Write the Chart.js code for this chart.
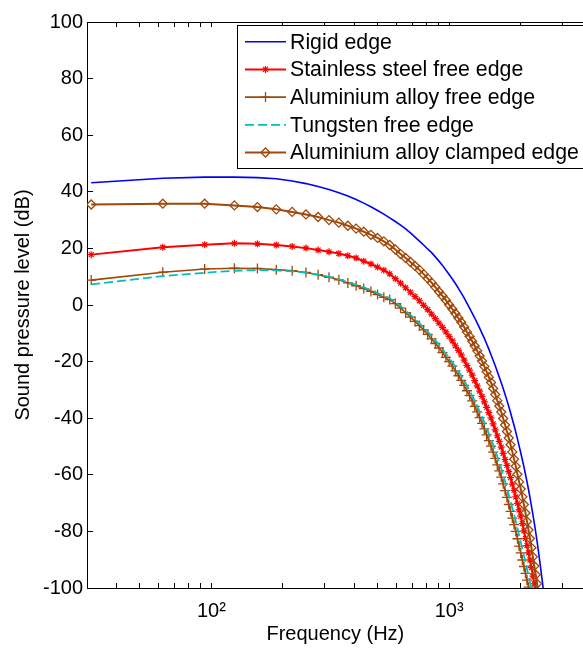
<!DOCTYPE html>
<html>
<head>
<meta charset="utf-8">
<script src="https://cdn.jsdelivr.net/npm/chart.js"></script>
<style>
  html, body { margin: 0; padding: 0; background: #fff; }
  #wrap { width: 583px; height: 650px; overflow: hidden; }
</style>
</head>
<body>
<div id="wrap"><canvas id="splChart" width="590" height="650"></canvas></div>
<script>
// frequency points (Hz), 31.25 Hz spacing
const freqs = [31.25, 62.5, 93.75, 125, 156.25, 187.5, 218.75, 250, 281.25, 312.5,
  343.75, 375, 406.25, 437.5, 468.75, 500, 531.25, 562.5, 593.75, 625,
  656.25, 687.5, 718.75, 750, 781.25, 812.5, 843.75, 875, 906.25, 937.5,
  968.75, 1000, 1031.25, 1062.5, 1093.75, 1125, 1156.25, 1187.5, 1218.75, 1250,
  1281.25, 1312.5, 1343.75, 1375, 1406.25, 1437.5, 1468.75, 1500, 1531.25, 1562.5,
  1593.75, 1625, 1656.25, 1687.5, 1718.75, 1750, 1781.25, 1812.5, 1843.75, 1875,
  1906.25, 1937.5, 1968.75, 2000, 2031.25, 2062.5, 2093.75, 2125, 2156.25, 2187.5,
  2218.75, 2250, 2281.25, 2312.5, 2343.75, 2375, 2406.25, 2437.5, 2468.75, 2500, 2531.25];

// sound pressure level (dB) per case
const rigidEdge = [43.2, 44.8, 45.2, 45.2, 45.0, 44.6, 43.8, 42.9, 41.9, 40.8,
  39.7, 38.5, 37.3, 36.0, 34.7, 33.4, 32.1, 30.8, 29.5, 28.2,
  26.9, 25.5, 24.0, 22.6, 21.2, 19.8, 18.5, 17.0, 15.5, 14.0,
  12.4, 10.8, 9.2, 7.6, 5.9, 4.2, 2.5, 0.7, -1.1, -2.9,
  -4.6, -6.4, -8.2, -10.0, -11.8, -13.7, -15.6, -17.6, -19.5, -21.5,
  -23.5, -25.5, -27.5, -29.5, -31.6, -33.7, -35.9, -38.1, -40.4, -42.6,
  -44.9, -47.3, -49.8, -52.2, -54.7, -57.1, -59.8, -62.4, -65.2, -68.1,
  -71.1, -74.0, -77.1, -80.3, -83.6, -87.1, -90.8, -94.4, -98.1, -101.9, -106.0];

const steelFree = [17.8, 20.4, 21.3, 21.8, 21.6, 21.2, 20.7, 20.1, 19.4, 18.8,
  18.2, 17.4, 16.6, 15.5, 14.5, 13.4, 12.3, 11.0, 9.3, 7.7,
  6.1, 4.5, 3.0, 1.5, -0.1, -1.6, -3.2, -4.8, -6.4, -7.9,
  -9.5, -11.1, -12.7, -14.4, -16.0, -17.6, -19.5, -21.3, -23.0, -24.8,
  -26.7, -28.6, -30.4, -32.3, -34.2, -36.2, -38.0, -39.9, -42.0, -44.1,
  -46.2, -48.2, -50.2, -52.4, -54.6, -56.7, -58.9, -61.0, -63.3, -65.5,
  -67.8, -70.1, -72.4, -74.6, -77.2, -79.8, -82.5, -85.0, -87.6, -90.1,
  -92.8, -95.8, -98.5, -101.5];

const aluFree = [8.8, 11.6, 12.7, 13.0, 12.9, 12.5, 12.1, 11.5, 10.7, 9.8,
  8.9, 7.8, 6.8, 5.8, 4.8, 3.7, 2.7, 1.9, 0.5, -1.1,
  -2.7, -4.3, -5.8, -7.3, -8.8, -10.4, -12.0, -13.6, -15.2, -16.8,
  -18.5, -20.0, -21.6, -23.3, -25.0, -26.6, -28.4, -30.3, -32.0, -33.9,
  -35.8, -37.8, -39.8, -41.8, -43.8, -45.9, -47.9, -49.9, -52.0, -54.2,
  -56.5, -58.6, -60.8, -63.2, -65.6, -68.0, -70.5, -72.9, -75.3, -77.6,
  -80.0, -82.6, -85.2, -87.6, -90.1, -92.4, -94.8, -97.2, -99.7, -102.5];

const tungstenFree = [7.3, 10.2, 11.4, 12.1, 12.3, 12.2, 11.9, 11.4, 10.7, 9.9,
  9.1, 8.1, 7.1, 6.2, 5.2, 4.2, 3.2, 2.4, 1.1, -0.4,
  -2.0, -3.5, -5.0, -6.5, -7.9, -9.4, -11.0, -12.5, -14.0, -15.6,
  -17.2, -18.7, -20.2, -21.8, -23.4, -25.0, -26.7, -28.5, -30.2, -32.0,
  -33.8, -35.7, -37.6, -39.5, -41.4, -43.4, -45.4, -47.3, -49.3, -51.4,
  -53.6, -55.7, -57.8, -60.1, -62.4, -64.7, -67.1, -69.4, -71.8, -74.0,
  -76.4, -78.9, -81.4, -83.7, -86.2, -88.5, -90.9, -93.3, -95.7, -98.2, -100.8];

const aluClamped = [35.5, 35.8, 35.8, 35.2, 34.6, 33.8, 32.9, 32.0, 31.1, 30.0,
  29.1, 28.0, 27.0, 25.9, 24.8, 23.7, 22.5, 21.2, 19.6, 18.0,
  16.6, 15.2, 13.8, 12.4, 10.9, 9.4, 7.9, 6.3, 4.7, 3.2,
  1.7, 0.1, -1.4, -3.0, -4.6, -6.1, -7.8, -9.5, -11.1, -12.8,
  -14.5, -16.2, -18.0, -19.8, -21.7, -23.6, -25.5, -27.4, -29.5, -31.6,
  -33.8, -35.7, -37.8, -40.1, -42.4, -44.7, -47.0, -49.4, -51.9, -54.5,
  -57.0, -59.8, -62.5, -65.0, -67.8, -70.5, -73.5, -76.5, -79.5, -82.5,
  -85.8, -89.0, -92.2, -95.3, -98.5, -102.0];

const seriesNames = ['Rigid edge', 'Stainless steel free edge', 'Aluminium alloy free edge',
  'Tungsten free edge', 'Aluminium alloy clamped edge'];

// axis ticks
const xTickValues = [30, 40, 50, 60, 70, 80, 90, 100, 200, 300, 400, 500, 600, 700, 800, 900, 1000, 2000, 3000];
const xMajorTicks = [100, 1000];
const xMajorLabels = ['10\u00B2', '10\u00B3'];
const yTickValues = [-100, -80, -60, -40, -20, 0, 20, 40, 60, 80, 100];

const brown = '#A0480A';
const fontFam = "'Liberation Sans', Arial, sans-serif";

function pts(vals) {
  return vals.map((v, i) => ({ x: freqs[i], y: v }));
}

// MATLAB-style legend box inside the axes
const boxLegend = {
  id: 'boxLegend',
  afterDraw(chart) {
    const ctx = chart.ctx;
    const left = 237, top = 25, bottom = 168, right = 600;
    const rowY = [41.7, 69.4, 97.1, 124.8, 152.5];
    ctx.save();
    ctx.fillStyle = '#fff';
    ctx.fillRect(left, top, right - left, bottom - top);
    ctx.strokeStyle = '#000';
    ctx.lineWidth = 1;
    ctx.strokeRect(left + 0.5, top + 0.5, right - left, bottom - top);
    chart.data.datasets.forEach((ds, i) => {
      const y = rowY[i];
      ctx.save();
      ctx.strokeStyle = ds.borderColor;
      ctx.lineWidth = ds.borderWidth;
      ctx.setLineDash(ds.borderDash || []);
      ctx.beginPath();
      ctx.moveTo(245, y);
      ctx.lineTo(286, y);
      ctx.stroke();
      ctx.setLineDash([]);
      if (ds.pointRadius > 0 && Chart.helpers && Chart.helpers.drawPoint) {
        ctx.strokeStyle = ds.pointBorderColor;
        ctx.fillStyle = 'rgba(0,0,0,0)';
        ctx.lineWidth = ds.pointBorderWidth;
        Chart.helpers.drawPoint(ctx, {
          pointStyle: ds.pointStyle, rotation: 0,
          radius: ds.pointRadius, borderWidth: ds.pointBorderWidth
        }, 265.5, y);
      }
      ctx.restore();
      ctx.fillStyle = '#000';
      ctx.font = '21.3px ' + fontFam;
      ctx.textBaseline = 'middle';
      ctx.textAlign = 'left';
      ctx.fillText(ds.label, 290, y + 1);
    });
    ctx.restore();
  }
};

const logAxis = (pos, showLabels) => ({
  type: 'logarithmic',
  position: pos,
  min: 30,
  max: 3680,
  bounds: 'data',
  border: { color: '#000', width: 1 },
  grid: { display: true, drawOnChartArea: false, drawTicks: true, tickLength: -5, color: '#000' },
  ticks: {
    autoSkip: false,
    maxRotation: 0,
    padding: 16,
    color: '#000',
    font: { size: 20, family: fontFam },
    callback: (v) => {
      const j = xMajorTicks.indexOf(v);
      return (showLabels && j >= 0) ? xMajorLabels[j] : '';
    }
  },
  afterBuildTicks: (scale) => { scale.ticks = xTickValues.map(v => ({ value: v })); }
});

const xBottom = logAxis('bottom', true);
xBottom.title = { display: true, text: 'Frequency (Hz)', color: '#000',
  font: { size: 20, family: fontFam }, padding: { top: 0, bottom: 4 } };
xBottom.afterFit = (scale) => { scale.height = 62; };

const xTop = logAxis('top', false);
xTop.afterFit = (scale) => { scale.height = 18; };

new Chart(document.getElementById('splChart'), {
  type: 'line',
  data: {
    datasets: [
      { label: seriesNames[0], data: pts(rigidEdge), borderColor: '#0000FF', borderWidth: 1.6,
        pointRadius: 0, order: 5 },
      { label: seriesNames[1], data: pts(steelFree), borderColor: '#FF0000', borderWidth: 2,
        pointStyle: 'star', pointRadius: 3.5, pointBorderColor: '#FF0000', pointBorderWidth: 1.2,
        pointBackgroundColor: 'rgba(0,0,0,0)', order: 4 },
      { label: seriesNames[2], data: pts(aluFree), borderColor: brown, borderWidth: 1.6,
        pointStyle: 'cross', pointRadius: 5, pointBorderColor: brown, pointBorderWidth: 1.3,
        pointBackgroundColor: 'rgba(0,0,0,0)', order: 3 },
      { label: seriesNames[3], data: pts(tungstenFree), borderColor: '#00BFBF', borderWidth: 1.8,
        borderDash: [9, 4], pointRadius: 0, order: 2 },
      { label: seriesNames[4], data: pts(aluClamped), borderColor: brown, borderWidth: 2,
        pointStyle: 'rectRot', pointRadius: 4.5, pointBorderColor: brown, pointBorderWidth: 1.3,
        pointBackgroundColor: 'rgba(0,0,0,0)', order: 1 }
    ]
  },
  options: {
    responsive: false,
    animation: false,
    events: [],
    layout: { padding: { left: 0, right: 0, top: 0, bottom: 0 } },
    plugins: { legend: { display: false }, tooltip: { enabled: false } },
    elements: { line: { tension: 0 } },
    scales: {
      x: xBottom,
      x2: xTop,
      y: {
        type: 'linear',
        min: -100,
        max: 100,
        border: { color: '#000', width: 1 },
        grid: { display: true, drawOnChartArea: false, drawTicks: true, tickLength: -6, color: '#000' },
        ticks: {
          padding: 10,
          color: '#000',
          font: { size: 20, family: fontFam }
        },
        afterBuildTicks: (scale) => { scale.ticks = yTickValues.map(v => ({ value: v })); },
        title: { display: true, text: 'Sound pressure level (dB)', color: '#000',
          font: { size: 20, family: fontFam }, padding: { top: 11, bottom: 0 } },
        afterFit: (scale) => { scale.width = 87; }
      }
    }
  },
  plugins: [boxLegend]
});
</script>
</body>
</html>
